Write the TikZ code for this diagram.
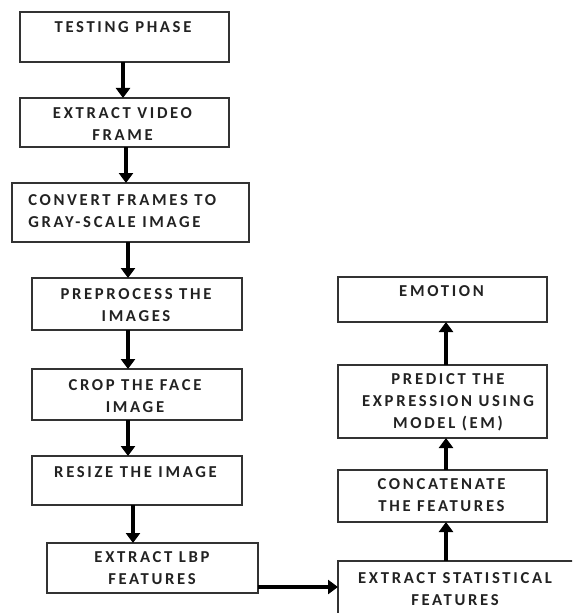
\documentclass[tikz,border=0pt]{standalone}
\usepackage{fontspec}
\setmainfont{Carlito}[LetterSpace=16]
\usetikzlibrary{arrows.meta}
\begin{document}
\begin{tikzpicture}[x=0.75pt,y=-0.75pt,
  bx/.style 2 args={draw=boxgray, line width=1.1pt, inner sep=0pt, outer sep=0pt,
    minimum width=#1*0.75pt, minimum height=#2*0.75pt},
  txt/.style={font=\fontsize{12.5}{16.5}\selectfont\bfseries, text=txtgray, align=center, inner sep=0pt},
  arr/.style={line width=2.3pt, -{Triangle[width=10.5pt,length=7.5pt]}}]
\definecolor{boxgray}{HTML}{333333}
\definecolor{txtgray}{HTML}{222222}
\path[use as bounding box] (0,0) rectangle (572,613);
\clip (0,0) rectangle (572,613);
\fill[white] (0,0) rectangle (572,613);
% boxes
\node[bx={209}{50}] (b1) at (124.5,37) {};
\node[bx={209}{49}] (b2) at (124.5,122.5) {};
\node[bx={237}{59}] (b3) at (130.5,212.5) {};
\node[bx={210}{52}] (b4) at (137,304) {};
\node[bx={210}{51}] (b5) at (137,394.5) {};
\node[bx={210}{49}] (b6) at (137,480.5) {};
\node[bx={211}{50}] (b7) at (152.5,568) {};
\node[bx={209}{45}] (e1) at (442.5,299.5) {};
\node[bx={209}{73}] (e2) at (442.5,401.5) {};
\node[bx={209}{52}] (e3) at (442.5,496) {};
\node[bx={252}{79}] (e4) at (464,600.5) {};
% texts
\node[txt] (t1) at (123,27.5) {TESTING PHASE};
\node[txt] (t2) at (122.5,124.5) {EXTRACT VIDEO\\FRAME};
\node[txt, anchor=west, align=left] (t3) at (28,211) {CONVERT FRAMES TO\\GRAY-SCALE IMAGE};
\node[txt] (t4) at (136,305.5) {PREPROCESS THE\\IMAGES};
\node[txt] (t5) at (135,396.5) {CROP THE FACE\\IMAGE};
\node[txt] (t6) at (135.5,472) {RESIZE THE IMAGE};
\node[txt] (t7) at (152,568.5) {EXTRACT LBP\\FEATURES};
\node[txt] (u1) at (441.5,291) {EMOTION};
\node[txt] (u2) at (448,402.5) {PREDICT THE\\EXPRESSION USING\\MODEL (EM)};
\node[txt] (u3) at (441.5,495.5) {CONCATENATE\\THE FEATURES};
\node[txt] (u4) at (455,589.5) {EXTRACT STATISTICAL\\FEATURES};
% arrow x positions
\coordinate (xa) at (123,0);
\coordinate (xb) at (126,0);
\coordinate (xc) at (128,0);
\coordinate (xd) at (133,0);
\coordinate (xe) at (446,0);
\coordinate (ya) at (0,587);
% arrows
\draw[arr] (b1.south -| xa) -- (b2.north -| xa);
\draw[arr] (b2.south -| xb) -- (b3.north -| xb);
\draw[arr] (b3.south -| xc) -- (b4.north -| xc);
\draw[arr] (b4.south -| xc) -- (b5.north -| xc);
\draw[arr] (b5.south -| xc) -- (b6.north -| xc);
\draw[arr] (b6.south -| xd) -- (b7.north -| xd);
\draw[arr] (b7.east |- ya) -- (e4.west |- ya);
\draw[arr] (e4.north -| xe) -- (e3.south -| xe);
\draw[arr] (e3.north -| xe) -- (e2.south -| xe);
\draw[arr] (e2.north -| xe) -- (e1.south -| xe);
\end{tikzpicture}
\end{document}
